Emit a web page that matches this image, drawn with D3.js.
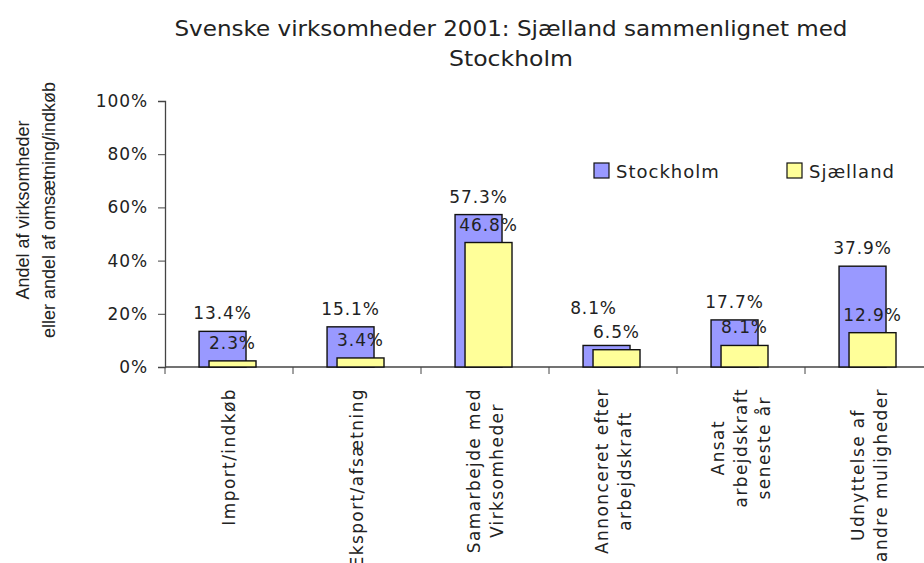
<!DOCTYPE html>
<html>
<head>
<meta charset="utf-8">
<script src="https://cdn.jsdelivr.net/npm/d3@7"></script>
<style>
  body { margin: 0; background: #fff; }
  text { font-family: "DejaVu Sans", Verdana, sans-serif; fill: #222; }
  .arial { font-family: "Liberation Sans", Arial, sans-serif; }
</style>
</head>
<body>
<div id="chart"></div>
<script>
const categories = [
  ["Import/indkøb"],
  ["Eksport/afsætning"],
  ["Samarbejde med", "Virksomheder"],
  ["Annonceret efter", "arbejdskraft"],
  ["Ansat", "arbejdskraft", "seneste år"],
  ["Udnyttelse af", "andre muligheder"]
];
const stockholm = [13.4, 15.1, 57.3, 8.1, 17.7, 37.9];
const sjaelland = [2.3, 3.4, 46.8, 6.5, 8.1, 12.9];
const seriesNames = ["Stockholm", "Sjælland"];
const seriesColors = ["#9999ff", "#ffff99"];
const yTicks = [0, 20, 40, 60, 80, 100];
const titleLines = ["Svenske virksomheder 2001: Sjælland sammenlignet med", "Stockholm"];
const yTitleLines = ["Andel af virksomheder", "eller andel af omsætning/indkøb"];

const width = 924, height = 563;
const plot = {left: 165, right: 933, top: 101, bottom: 367};

const svg = d3.select("#chart").append("svg")
  .attr("width", width).attr("height", height);

const keys = categories.map((c, i) => i);
const x = d3.scaleBand().domain(keys).range([plot.left, plot.right]).padding(0);
const y = d3.scaleLinear().domain([0, 100]).range([plot.bottom, plot.top]);

// title
const titleWidths = [673, 124];
svg.append("g").selectAll("text").data(titleLines).join("text")
  .attr("x", 511).attr("y", (d, i) => 36 + i * 30)
  .attr("text-anchor", "middle")
  .attr("textLength", (d, i) => titleWidths[i])
  .attr("lengthAdjust", "spacingAndGlyphs")
  .style("font-size", "22px")
  .text(d => d);

// y axis title
svg.append("g").selectAll("text").data(yTitleLines).join("text")
  .attr("class", "arial")
  .attr("transform", (d, i) => `translate(${29 + i * 26},210) rotate(-90)`)
  .attr("text-anchor", "middle")
  .style("font-size", "18px")
  .text(d => d);

// y axis
const yAxis = svg.append("g")
  .attr("transform", `translate(${plot.left},0)`)
  .call(d3.axisLeft(y).tickValues(yTicks).tickSize(7).tickPadding(10).tickFormat(d => d + "%"));
yAxis.select(".domain").attr("stroke", "#444").attr("stroke-width", 1.3);
yAxis.selectAll(".tick line").attr("stroke", "#444");
yAxis.selectAll(".tick text").style("font-size", "17px").attr("fill", "#222")
  .style("letter-spacing", "0.9px")
  .style("font-family", '"DejaVu Sans", Verdana, sans-serif');

// x baseline and category ticks
svg.append("line")
  .attr("x1", plot.left).attr("x2", plot.right)
  .attr("y1", plot.bottom).attr("y2", plot.bottom)
  .attr("stroke", "#444").attr("stroke-width", 1.3);
svg.append("g").selectAll("line").data(keys.concat([keys.length])).join("line")
  .attr("x1", d => d < keys.length ? x(d) : plot.right)
  .attr("x2", d => d < keys.length ? x(d) : plot.right)
  .attr("y1", plot.bottom).attr("y2", plot.bottom + 7)
  .attr("stroke", "#444");

const bw = x.bandwidth();
const barW = bw * 0.367;
const offsets = [bw * 0.266, bw * 0.344];
const series = [stockholm, sjaelland];

// bars
series.forEach((vals, s) => {
  svg.append("g").selectAll("rect").data(vals).join("rect")
    .attr("x", (d, i) => x(i) + offsets[s])
    .attr("y", d => y(d))
    .attr("width", barW)
    .attr("height", d => plot.bottom - y(d))
    .attr("fill", seriesColors[s])
    .attr("stroke", "#111")
    .attr("stroke-width", 1.4);
});

// value labels, with Stockholm label lifted when it would collide with Sjælland's
const labelPos = series.map((vals, s) => vals.map((d, i) => ({
  v: d, x: x(i) + offsets[s] + barW / 2, y: y(d) - 12
})));
labelPos[0].forEach((p, i) => {
  const q = labelPos[1][i];
  if (Math.abs(p.y - q.y) < 20) {
    p.y = q.y - 24;
    p.x -= 13;
  }
});
labelPos.forEach(pos => {
  svg.append("g").selectAll("text").data(pos).join("text")
    .attr("x", d => d.x)
    .attr("y", d => d.y)
    .attr("text-anchor", "middle")
    .style("font-size", "17px")
    .style("letter-spacing", "0.9px")
    .text(d => d.v.toFixed(1) + "%");
});

// category labels (rotated)
const catTop = 388;
const lineH = 23;
categories.forEach((lines, i) => {
  const g = svg.append("g");
  const texts = g.selectAll("text").data(lines).join("text")
    .style("font-size", "17px")
    .style("letter-spacing", "1.4px")
    .attr("text-anchor", "middle")
    .text(d => d);
  const maxLen = d3.max(texts.nodes(), n => n.getComputedTextLength());
  const cx = x(i) + bw / 2;
  const n = lines.length;
  texts.attr("transform", (d, j) => {
    const lx = cx + (j - (n - 1) / 2) * lineH + 6;
    return `translate(${lx},${catTop + maxLen / 2}) rotate(-90)`;
  });
});

// legend
const legend = svg.append("g");
const legendX = [594, 787];
seriesNames.forEach((name, s) => {
  legend.append("rect")
    .attr("x", legendX[s]).attr("y", 163)
    .attr("width", 15).attr("height", 15)
    .attr("fill", seriesColors[s]).attr("stroke", "#111").attr("stroke-width", 1.2);
  legend.append("text")
    .attr("x", legendX[s] + 22).attr("y", 178)
    .style("font-size", "18px")
    .style("letter-spacing", "1px")
    .text(name);
});
</script>
</body>
</html>
